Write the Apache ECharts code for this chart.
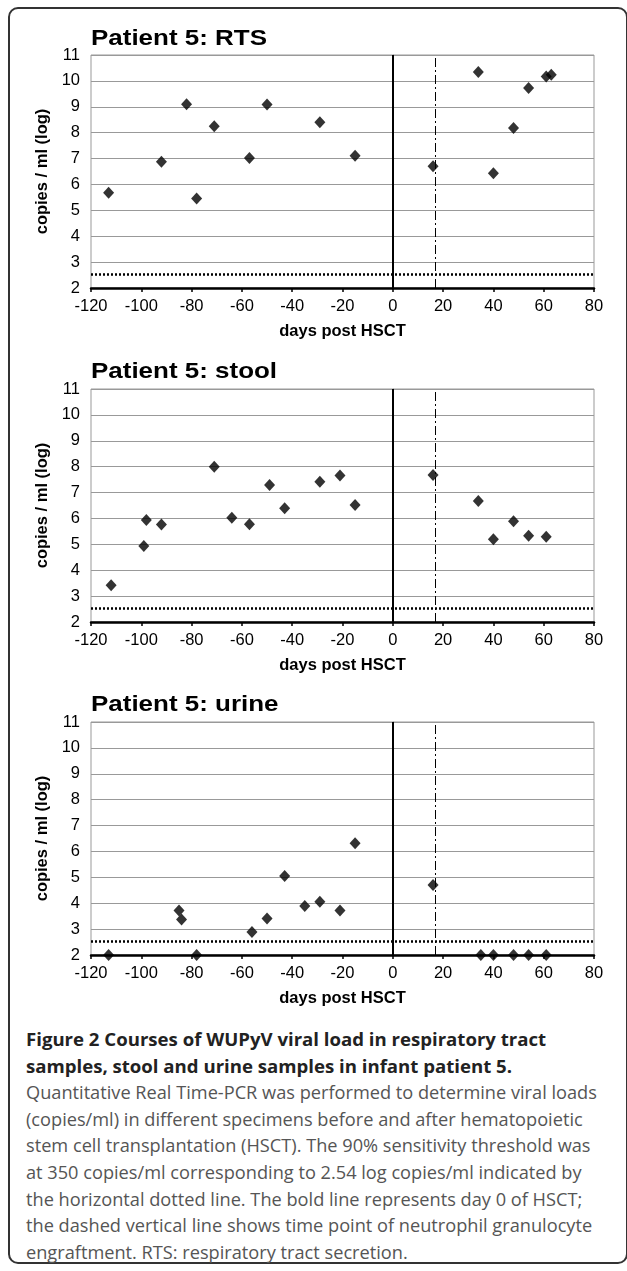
<!DOCTYPE html>
<html><head><meta charset="utf-8">
<script src="https://cdn.jsdelivr.net/npm/echarts@6/dist/echarts.min.js"></script>
<style>
html,body{margin:0;padding:0;background:#fff;width:627px;height:1271px;overflow:hidden;}
#frame{position:absolute;left:8px;top:7px;width:620px;height:1257px;border:2px solid #333;border-radius:10px;box-sizing:border-box;}
#chart{position:absolute;left:0;top:0;width:627px;height:1015px;}
#caption{position:absolute;left:26px;top:1026px;width:600px;font-family:'Open Sans';font-size:18.2px;line-height:26.6px;color:#555;white-space:nowrap;}
#caption b{color:#222;font-weight:700;font-size:18.6px;}
</style></head>
<body>
<div id="frame"></div>
<div id="chart"></div>
<div id="caption"><b>Figure 2 Courses of WUPyV viral load in respiratory tract<br>samples, stool and urine samples in infant patient 5.</b><br>Quantitative Real Time-PCR was performed to determine viral loads<br>(copies/ml) in different specimens before and after hematopoietic<br>stem cell transplantation (HSCT). The 90% sensitivity threshold was<br>at 350 copies/ml corresponding to 2.54 log copies/ml indicated by<br>the horizontal dotted line. The bold line represents day 0 of HSCT;<br>the dashed vertical line shows time point of neutrophil granulocyte<br>engraftment. RTS: respiratory tract secretion.</div>
<script>
// ---- data ----
const panelTitles = ['Patient 5: RTS', 'Patient 5: stool', 'Patient 5: urine'];
const rtsDays  = [-113, -92, -82, -78, -71, -57, -50, -29, -15, 16, 34, 40, 48, 54, 61, 63];
const rtsLoads = [5.68, 6.88, 9.10, 5.46, 8.25, 7.02, 9.09, 8.40, 7.11, 6.70, 10.34, 6.43, 8.18, 9.73, 10.17, 10.24];
const stoolDays  = [-112, -99, -98, -92, -71, -64, -57, -49, -43, -29, -21, -15, 16, 34, 40, 48, 54, 61];
const stoolLoads = [3.42, 4.94, 5.94, 5.77, 8.00, 6.03, 5.78, 7.29, 6.39, 7.42, 7.66, 6.52, 7.68, 6.67, 5.20, 5.89, 5.33, 5.29];
const urineDays  = [-113, -85, -84, -78, -56, -50, -43, -35, -29, -21, -15, 16, 35, 40, 48, 54, 61];
const urineLoads = [2, 3.72, 3.37, 2, 2.89, 3.41, 5.05, 3.89, 4.06, 3.72, 6.32, 4.70, 2, 2, 2, 2, 2];
const xMin = -120, xMax = 80, xStep = 20;
const yMin = 2, yMax = 11, yStep = 1;
const thresholdLog = 2.54;
const hsctDay = 0;
const engraftDay = 17;
const xAxisTitle = 'days post HSCT';
const yAxisTitle = 'copies / ml (log)';

// ---- layout ----
const panels = [
  {days: rtsDays, loads: rtsLoads},
  {days: stoolDays, loads: stoolLoads},
  {days: urineDays, loads: urineLoads}
];
const gridTops = [55, 389, 722];
const titleCenters = [39, 372, 705];
const FONT = 'Liberation Sans, Arial, sans-serif';

const chart = echarts.init(document.getElementById('chart'), null, {renderer: 'canvas'});
const option = {
  animation: false,
  backgroundColor: 'transparent',
  graphic: panelTitles.map((t, i) => ({
    type: 'text', x: 91, y: titleCenters[i], scaleX: 1.18, scaleY: 1,
    style: {text: t, font: 'bold 22px ' + FONT, fill: '#000', textVerticalAlign: 'middle', verticalAlign: 'middle'}
  })),
  grid: gridTops.map(t => ({
    left: 91, top: t, width: 503, height: 233,
    show: true, borderColor: '#999', borderWidth: 1, backgroundColor: 'transparent'
  })),
  xAxis: panels.map((p, i) => ({
    type: 'value', gridIndex: i, min: xMin, max: xMax, interval: xStep,
    name: xAxisTitle, nameLocation: 'middle', nameGap: 35,
    nameTextStyle: {fontFamily: FONT, fontWeight: 'bold', fontSize: 16.5, color: '#000'},
    axisLine: {show: true, onZero: false, lineStyle: {color: '#000', width: 2.5}},
    axisTick: {show: true, length: 4, lineStyle: {color: '#000', width: 1.5}},
    axisLabel: {fontFamily: FONT, fontSize: 16.5, color: '#000', margin: 10},
    splitLine: {show: false}
  })),
  yAxis: panels.map((p, i) => ({
    type: 'value', gridIndex: i, min: yMin, max: yMax, interval: yStep,
    name: yAxisTitle, nameLocation: 'middle', nameGap: 38, nameRotate: 90,
    nameTextStyle: {fontFamily: FONT, fontWeight: 'bold', fontSize: 16.5, color: '#000'},
    axisLine: {show: true, lineStyle: {color: '#999', width: 1}},
    axisTick: {show: false},
    axisLabel: {fontFamily: FONT, fontSize: 16.5, color: '#000', margin: 11},
    splitLine: {show: true, lineStyle: {color: '#999', width: 1}}
  })),
  series: panels.map((p, i) => ({
    type: 'scatter', xAxisIndex: i, yAxisIndex: i, clip: false,
    symbol: 'diamond', symbolSize: [11, 12],
    itemStyle: {color: '#000'},
    data: p.days.map((d, k) => [d, p.loads[k]]),
    z: 5,
    markLine: {
      silent: true, symbol: ['none', 'none'], label: {show: false}, z: 3,
      data: [
        {xAxis: hsctDay, lineStyle: {color: '#000', width: 2, type: 'solid'}},
        {xAxis: engraftDay, lineStyle: {color: '#000', width: 1, type: [9, 3, 2, 3]}},
        {yAxis: thresholdLog, lineStyle: {color: '#000', width: 2.5, type: [2, 2]}}
      ]
    }
  }))
};
chart.setOption(option);
</script>
</body></html>
